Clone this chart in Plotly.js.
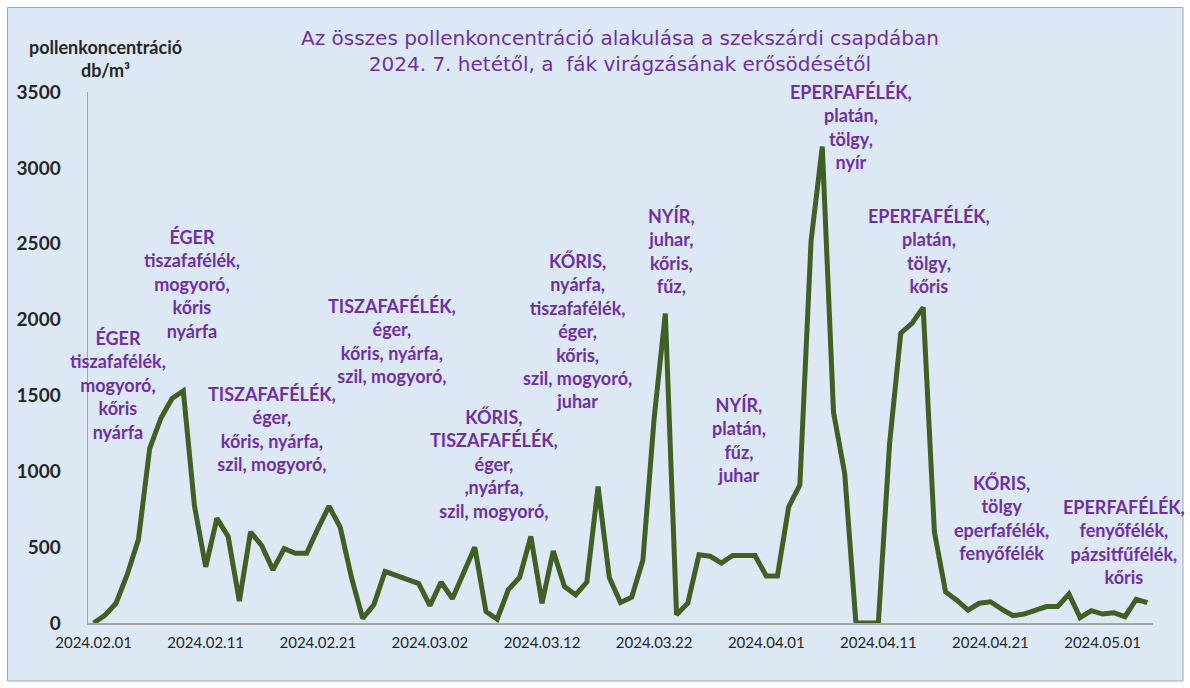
<!DOCTYPE html>
<html>
<head>
<meta charset="utf-8">
<script src="https://cdn.plot.ly/plotly-3.0.1.min.js"></script>
<style>
  html, body { margin: 0; padding: 0; background: #ffffff; }
  #chart { width: 1190px; height: 688px; }
</style>
</head>
<body>
<div id="chart"></div>
<script>
// Daily dates (categories)
const dates = [
  '2024-02-01','2024-02-02','2024-02-03','2024-02-04','2024-02-05','2024-02-06','2024-02-07','2024-02-08','2024-02-09','2024-02-10',
  '2024-02-11','2024-02-12','2024-02-13','2024-02-14','2024-02-15','2024-02-16','2024-02-17','2024-02-18','2024-02-19','2024-02-20',
  '2024-02-21','2024-02-22','2024-02-23','2024-02-24','2024-02-25','2024-02-26','2024-02-27','2024-02-28','2024-02-29',
  '2024-03-01','2024-03-02','2024-03-03','2024-03-04','2024-03-05','2024-03-06','2024-03-07','2024-03-08','2024-03-09','2024-03-10',
  '2024-03-11','2024-03-12','2024-03-13','2024-03-14','2024-03-15','2024-03-16','2024-03-17','2024-03-18','2024-03-19','2024-03-20',
  '2024-03-21','2024-03-22','2024-03-23','2024-03-24','2024-03-25','2024-03-26','2024-03-27','2024-03-28','2024-03-29','2024-03-30','2024-03-31',
  '2024-04-01','2024-04-02','2024-04-03','2024-04-04','2024-04-05','2024-04-06','2024-04-07','2024-04-08','2024-04-09','2024-04-10',
  '2024-04-11','2024-04-12','2024-04-13','2024-04-14','2024-04-15','2024-04-16','2024-04-17','2024-04-18','2024-04-19','2024-04-20',
  '2024-04-21','2024-04-22','2024-04-23','2024-04-24','2024-04-25','2024-04-26','2024-04-27','2024-04-28','2024-04-29','2024-04-30',
  '2024-05-01','2024-05-02','2024-05-03','2024-05-04','2024-05-05'
];

// Total pollen concentration (db/m3)
const pollen = [
  0, 50, 130, 320, 550, 1150, 1350, 1480, 1530, 770,
  370, 690, 570, 145, 600, 510, 350, 490, 460, 460,
  620, 770, 630, 300, 30, 120, 340, 315, 290,
  260, 115, 270, 160, 340, 500, 75, 25, 220, 300,
  570, 130, 475, 240, 185, 270, 900, 300, 135, 170,
  415, 1350, 2040, 55, 130, 450, 440, 395, 445, 445, 445,
  310, 310, 765, 910, 2520, 3140, 1390, 985, 0, 0,
  0, 1180, 1910, 1975, 2080, 600, 205, 150, 85, 130,
  140, 92, 48, 59, 86, 108, 108, 191, 35, 81,
  59, 68, 42, 156, 134
];

// Labels naming the dominant taxa
const noteTexts = [
  'ÉGER<br>tiszafafélék,<br>mogyoró,<br>kőris<br>nyárfa',
  'ÉGER<br>tiszafafélék,<br>mogyoró,<br>kőris<br>nyárfa',
  'TISZAFAFÉLÉK,<br>éger,<br>kőris, nyárfa,<br>szil, mogyoró,',
  'TISZAFAFÉLÉK,<br>éger,<br>kőris, nyárfa,<br>szil, mogyoró,',
  'KŐRIS,<br>TISZAFAFÉLÉK,<br>éger,<br>,nyárfa,<br>szil, mogyoró,',
  'KŐRIS,<br>nyárfa,<br>tiszafafélék,<br>éger,<br>kőris,<br>szil, mogyoró,<br>juhar',
  'NYÍR,<br>juhar,<br>kőris,<br>fűz,',
  'NYÍR,<br>platán,<br>fűz,<br>juhar',
  'EPERFAFÉLÉK,<br>platán,<br>tölgy,<br>nyír',
  'EPERFAFÉLÉK,<br>platán,<br>tölgy,<br>kőris',
  'KŐRIS,<br>tölgy<br>eperfafélék,<br>fenyőfélék',
  'EPERFAFÉLÉK,<br>fenyőfélék,<br>pázsitfűfélék,<br>kőris'
];
const noteX = [
  '2024-02-03 04:12','2024-02-09 18:33','2024-02-16 21:45','2024-02-27 14:31',
  '2024-03-07 16:48','2024-03-15 04:32','2024-03-23 13:41','2024-03-29 13:00',
  '2024-04-08 12:43','2024-04-15 11:31','2024-04-21 23:45','2024-05-02 20:53'
];
const noteY = [1567, 2236, 1280, 1860, 1049, 1926, 2451, 1204, 3269, 2454, 689, 534];

const purple = '#7030a0';
const annFont = {family: 'Lato, "Open Sans", sans-serif', size: 18, color: purple, weight: 700};

const annotations = noteTexts.map((t, i) => ({
  text: t, x: noteX[i], y: noteY[i], xref: 'x', yref: 'y',
  xanchor: 'center', yanchor: 'middle', align: 'center',
  showarrow: false, font: annFont
}));

annotations.push({
  text: 'pollenkoncentráció<br>db/m³',
  xref: 'paper', yref: 'paper', x: 0.016, y: 1.063,
  xanchor: 'center', yanchor: 'middle', align: 'center', showarrow: false,
  font: {family: 'Lato, "Open Sans", sans-serif', size: 18, color: '#262626', weight: 700}
});

const trace = {
  type: 'scatter', mode: 'lines',
  x: dates, y: pollen,
  line: {color: '#405f24', width: 5, shape: 'linear'},
  hoverinfo: 'x+y'
};

const layout = {
  width: 1190, height: 688,
  margin: {l: 88, r: 37, t: 92, b: 65},
  paper_bgcolor: '#ffffff',
  plot_bgcolor: 'rgba(0,0,0,0)',
  showlegend: false,
  title: {
    text: 'Az összes pollenkoncentráció alakulása a szekszárdi csapdában<br>2024. 7. hetétől, a\u00a0 fák virágzásának erősödésétől',
    font: {family: '"DejaVu Sans", Verdana, sans-serif', size: 20, color: purple},
    xref: 'container', yref: 'container', x: 0.521, y: 0.9353,
    xanchor: 'center', yanchor: 'middle'
  },
  xaxis: {
    type: 'date',
    range: ['2024-01-31 12:00', '2024-05-05 12:00'],
    tick0: '2024-02-01', dtick: 864000000,
    tickformat: '%Y.%m.%d',
    showgrid: false, zeroline: false,
    showline: true, linecolor: '#a6a6a6', linewidth: 1.5,
    ticks: '', ticklabelstandoff: 5,
    tickfont: {family: 'Lato, "Open Sans", sans-serif', size: 15, color: '#262626'}
  },
  yaxis: {
    range: [0, 3500], dtick: 500, tick0: 0,
    showgrid: false, zeroline: false,
    showline: true, linecolor: '#a6a6a6', linewidth: 1.5,
    ticks: '', ticklabelstandoff: 22,
    tickfont: {family: 'Lato, "Open Sans", sans-serif', size: 19, color: '#262626', weight: 700}
  },
  shapes: [{
    type: 'rect', xref: 'paper', yref: 'paper', layer: 'below',
    x0: (7.5 - 88) / 1065, x1: (1183 - 88) / 1065,
    y0: (623 - 681) / 531, y1: (623 - 7.5) / 531,
    fillcolor: '#dce8f4', line: {color: '#a6a6a6', width: 1}
  }],
  annotations: annotations
};

Plotly.newPlot('chart', [trace], layout, {displayModeBar: false, staticPlot: true});
</script>
</body>
</html>
